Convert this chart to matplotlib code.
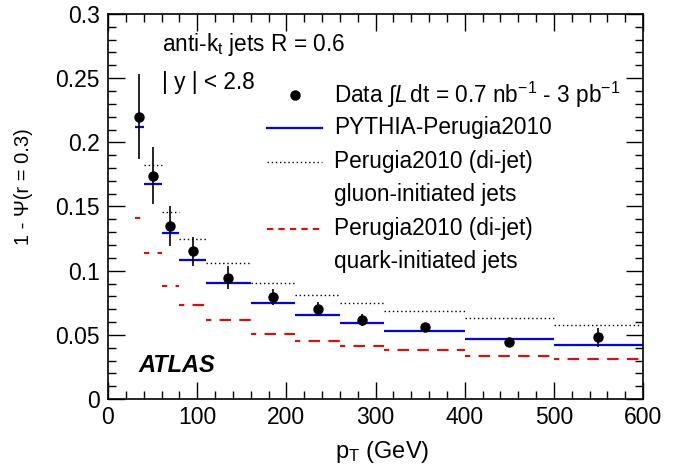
import matplotlib
matplotlib.use("Agg")
import matplotlib.pyplot as plt
from matplotlib.lines import Line2D
from matplotlib.ticker import MultipleLocator, FuncFormatter
import numpy as np

# bins in pT (GeV)
bin_lo = [30, 40, 60, 80, 110, 160, 210, 260, 310, 400, 500]
bin_hi = [40, 60, 80, 110, 160, 210, 260, 310, 400, 500, 600]

# data points
data_x = [35, 50, 70, 95, 135, 185, 235, 285, 355, 450, 550]
data_y = [0.220, 0.174, 0.135, 0.115, 0.0945, 0.0793, 0.0701, 0.0616, 0.0561, 0.0444, 0.0481]
data_err = [0.033, 0.022, 0.0155, 0.011, 0.009, 0.0064, 0.0058, 0.0046, 0.003, 0.002, 0.0072]

# PYTHIA-Perugia2010
pythia = [0.212, 0.1673, 0.1294, 0.1086, 0.0902, 0.0748, 0.0652, 0.0595, 0.0530, 0.0465, 0.0418]
# Perugia2010 di-jet, gluon-initiated (first bin not shown)
gluon = [np.nan, 0.1826, 0.146, 0.1249, 0.1056, 0.0902, 0.0813, 0.0746, 0.0682, 0.0629, 0.0577]
# Perugia2010 di-jet, quark-initiated
quark = [0.1413, 0.1138, 0.0878, 0.073, 0.0614, 0.0509, 0.0452, 0.0416, 0.0378, 0.0335, 0.0309]

legend_labels = [
    r"Data $\int L\,$dt = 0.7 nb$^{-1}$ - 3 pb$^{-1}$",
    "PYTHIA-Perugia2010",
    "Perugia2010 (di-jet)",
    "gluon-initiated jets",
    "Perugia2010 (di-jet)",
    "quark-initiated jets",
]

plt.rcParams["font.family"] = ["Liberation Sans", "DejaVu Sans"]
plt.rcParams["mathtext.fontset"] = "custom"
plt.rcParams["mathtext.rm"] = "Liberation Sans"
plt.rcParams["mathtext.it"] = "Liberation Sans:italic"
plt.rcParams["mathtext.bf"] = "Liberation Sans:bold"

W, H = 684, 471
fig = plt.figure(figsize=(W / 100, H / 100), dpi=100)
ax = fig.add_axes([108 / W, 72 / H, 535 / W, 385 / H])

dotted = (0, (1, 2))
dashed = (3, (5.5, 4))

ax.hlines(gluon, bin_lo, bin_hi, colors="black", linestyles=dotted, linewidth=1.0)
ax.hlines(quark, bin_lo, bin_hi, colors="#ff0000", linestyles=dashed, linewidth=1.5)
ax.hlines(pythia, bin_lo, bin_hi, colors="#0000ff", linewidth=1.6)
ax.errorbar(data_x, data_y, yerr=data_err, fmt="o", color="black",
            markersize=6.5, elinewidth=1.2, capsize=0)

ax.set_xlim(0, 600)
ax.set_ylim(0, 0.3)
ax.xaxis.set_major_locator(MultipleLocator(100))
ax.xaxis.set_minor_locator(MultipleLocator(20))
ax.yaxis.set_major_locator(MultipleLocator(0.05))
ax.yaxis.set_minor_locator(MultipleLocator(0.01))
ax.yaxis.set_major_formatter(FuncFormatter(lambda v, p: "0" if abs(v) < 1e-9 else f"{v:g}"))
ax.tick_params(which="both", direction="in", top=True, right=True, labelsize=16.5, width=1)
ax.tick_params(which="major", length=12)
ax.tick_params(which="minor", length=6)
ax.tick_params(axis="x", pad=5)
ax.tick_params(axis="y", pad=6)
for s in ax.spines.values():
    s.set_linewidth(1.2)

ax.set_xlabel(r"p$_{\rm T}$ (GeV)", fontsize=17)
ax.set_ylabel("1 - \u03a8(r = 0.3)", fontsize=14.5)
ax.xaxis.set_label_coords(0.512, -0.105)
ax.yaxis.set_label_coords(-0.14, 0.552)

fig.text(162 / W, 1 - 45 / H, r"anti-k$_{\rm t}$ jets R = 0.6", fontsize=16.3, va="center")
fig.text(162 / W, 1 - 83 / H, "| y | < 2.8", fontsize=16.3, va="center")
fig.text(138 / W, 1 - 366 / H, "ATLAS", fontsize=17, fontweight="bold", style="italic",
         va="center")

# legend drawn row by row (ROOT-style layout)
row_y = [95, 127.7, 161.7, 194, 229, 261.7]
handle_x0, handle_x1, text_x = 267, 322, 334
handle_styles = [
    dict(marker="o", color="black", linestyle="none", markersize=6.5),
    dict(color="#0000ff", linewidth=1.6),
    dict(color="black", linestyle=dotted, linewidth=1.0),
    None,
    dict(color="#ff0000", linestyle=(0, (3, 2.5)), linewidth=1.5),
    None,
]
for yy, lab, st in zip(row_y, legend_labels, handle_styles):
    yf = 1 - yy / H
    if st is not None:
        if st.get("marker"):
            xs = [(handle_x0 + handle_x1) / 2 / W]
            ys = [yf]
        else:
            xs = [handle_x0 / W, handle_x1 / W]
            ys = [yf, yf]
        fig.add_artist(Line2D(xs, ys, transform=fig.transFigure, **st))
    fig.text(text_x / W, yf, lab, fontsize=16.3, va="center")

fig.savefig("out.png", dpi=100)
